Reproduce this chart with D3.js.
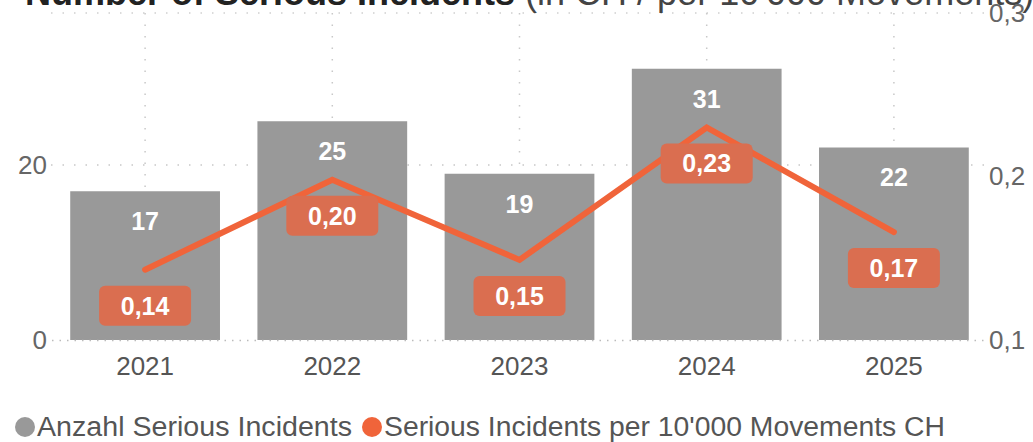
<!DOCTYPE html>
<html><head><meta charset="utf-8">
<script src="https://cdn.jsdelivr.net/npm/d3@7"></script>
<style>body{margin:0;background:#fff;overflow:hidden}svg{display:block;font-family:"Liberation Sans",Arial,sans-serif}</style>
</head><body>
<svg id="c" width="1033" height="442"></svg>
<script>
const years = ["2021","2022","2023","2024","2025"];
const incidents = [17, 25, 19, 31, 22];
const ratePer10k = [0.143, 0.198, 0.149, 0.230, 0.166];
const leftTicks = [0, 20, 40];
const rightTicks = [0.1, 0.2, 0.3];
const titleBold = "Number of Serious Incidents";
const titleRest = " (in CH / per 10'000 Movements)";
const legendLabels = ["Anzahl Serious Incidents", "Serious Incidents per 10'000 Movements CH"];

const svg = d3.select("#c");
const barColor = "#999999", lineColor = "#F0643A", boxColor = "#DA6E50";
const x = d3.scaleBand().domain(years).range([51.5, 987.5]).paddingInner(0.2).paddingOuter(0.1);
const y = d3.scaleLinear().domain([0, 40]).range([340, -10]);
const y2 = d3.scaleLinear().domain([0.1, 0.3]).range([340, 13]);
const cx = d => x(d) + x.bandwidth()/2;

// vertical dotted gridlines
svg.append("g").selectAll("line").data(years).join("line")
  .attr("x1", cx).attr("x2", cx).attr("y1", 13).attr("y2", 340)
  .attr("stroke", "#c8c8c8").attr("stroke-width", 1.5).attr("stroke-dasharray", "1.5,10");
// horizontal dotted gridlines
svg.append("g").selectAll("line").data(leftTicks.filter(t => t > 0 && t < 40)).join("line")
  .attr("x1", 51).attr("x2", 988).attr("y1", d => y(d)).attr("y2", d => y(d))
  .attr("stroke", "#c8c8c8").attr("stroke-width", 1.5).attr("stroke-dasharray", "1.5,10");
svg.append("line").attr("x1", 51).attr("x2", 988).attr("y1", y2(0.3)).attr("y2", y2(0.3))
  .attr("stroke", "#d0d0d0").attr("stroke-width", 1.5).attr("stroke-dasharray", "1.5,10");

// title (clipped at top)
const t = svg.append("text").attr("x", 25).attr("y", 5).attr("font-size", 36).attr("fill", "#222");
t.append("tspan").attr("font-weight", "bold").text(titleBold);
t.append("tspan").attr("fill", "#444").text(titleRest);

// bars
svg.append("g").selectAll("rect").data(years).join("rect")
  .attr("x", d => x(d)).attr("width", x.bandwidth())
  .attr("y", (d,i) => y(incidents[i])).attr("height", (d,i) => y(0) - y(incidents[i]))
  .attr("fill", barColor);

// bottom axis
const xAxis = svg.append("g").attr("transform", "translate(0,340)")
  .call(d3.axisBottom(x).tickSize(0).tickPadding(17));
xAxis.select(".domain").attr("stroke", "#bbb").attr("stroke-width", 1.5).attr("stroke-dasharray", "1.5,6");
xAxis.selectAll("text").attr("font-size", 26).attr("fill", "#555").attr("font-family", "Liberation Sans, Arial, sans-serif");

// left axis
const yAxis = svg.append("g").attr("transform", "translate(47,0)")
  .call(d3.axisLeft(y).tickValues(leftTicks.filter(t => t < 40)).tickSize(0).tickPadding(0));
yAxis.select(".domain").remove();
yAxis.selectAll("text").attr("font-size", 26).attr("fill", "#666").attr("font-family", "Liberation Sans, Arial, sans-serif");

// right axis
const y2Axis = svg.append("g").attr("transform", "translate(989,0)")
  .call(d3.axisRight(y2).tickValues(rightTicks).tickSize(0).tickPadding(0).tickFormat(d => d3.format(".1f")(d).replace(".", ",")));
y2Axis.select(".domain").remove();
y2Axis.selectAll("text").attr("font-size", 26).attr("fill", "#666").attr("font-family", "Liberation Sans, Arial, sans-serif");

// bar labels
svg.append("g").selectAll("text").data(years).join("text")
  .attr("x", cx).attr("y", (d,i) => y(incidents[i]) + 30).attr("dy", "0.35em")
  .attr("text-anchor", "middle").attr("font-size", 25).attr("font-weight", "bold").attr("fill", "#fff")
  .text((d,i) => incidents[i]);

// line
const line = d3.line().x(d => cx(d[0])).y(d => y2(d[1]));
svg.append("path").datum(years.map((d,i) => [d, ratePer10k[i]]))
  .attr("d", line).attr("fill", "none").attr("stroke", lineColor).attr("stroke-width", 6)
  .attr("stroke-linejoin", "miter").attr("stroke-linecap", "round");

// line labels
const lg = svg.append("g").selectAll("g").data(years).join("g")
  .attr("transform", (d,i) => `translate(${cx(d)},${y2(ratePer10k[i]) + 36})`);
lg.append("rect").attr("x", -46).attr("y", -20).attr("width", 92).attr("height", 40).attr("rx", 6)
  .attr("fill", boxColor);
lg.append("text").attr("text-anchor", "middle").attr("dy", "0.36em").attr("font-size", 25)
  .attr("font-weight", "bold").attr("fill", "#fff")
  .text((d,i) => d3.format(".2f")(ratePer10k[i]).replace(".", ","));

// legend
const leg = svg.append("g");
leg.append("circle").attr("cx", 25).attr("cy", 427).attr("r", 10).attr("fill", barColor);
leg.append("text").attr("x", 37).attr("y", 436).attr("font-size", 27).attr("fill", "#555")
  .attr("textLength", 315).attr("lengthAdjust", "spacingAndGlyphs").text(legendLabels[0]);
leg.append("circle").attr("cx", 372).attr("cy", 427).attr("r", 10).attr("fill", lineColor);
leg.append("text").attr("x", 384).attr("y", 436).attr("font-size", 27).attr("fill", "#555")
  .attr("textLength", 561).attr("lengthAdjust", "spacingAndGlyphs").text(legendLabels[1]);
</script>
</body></html>
